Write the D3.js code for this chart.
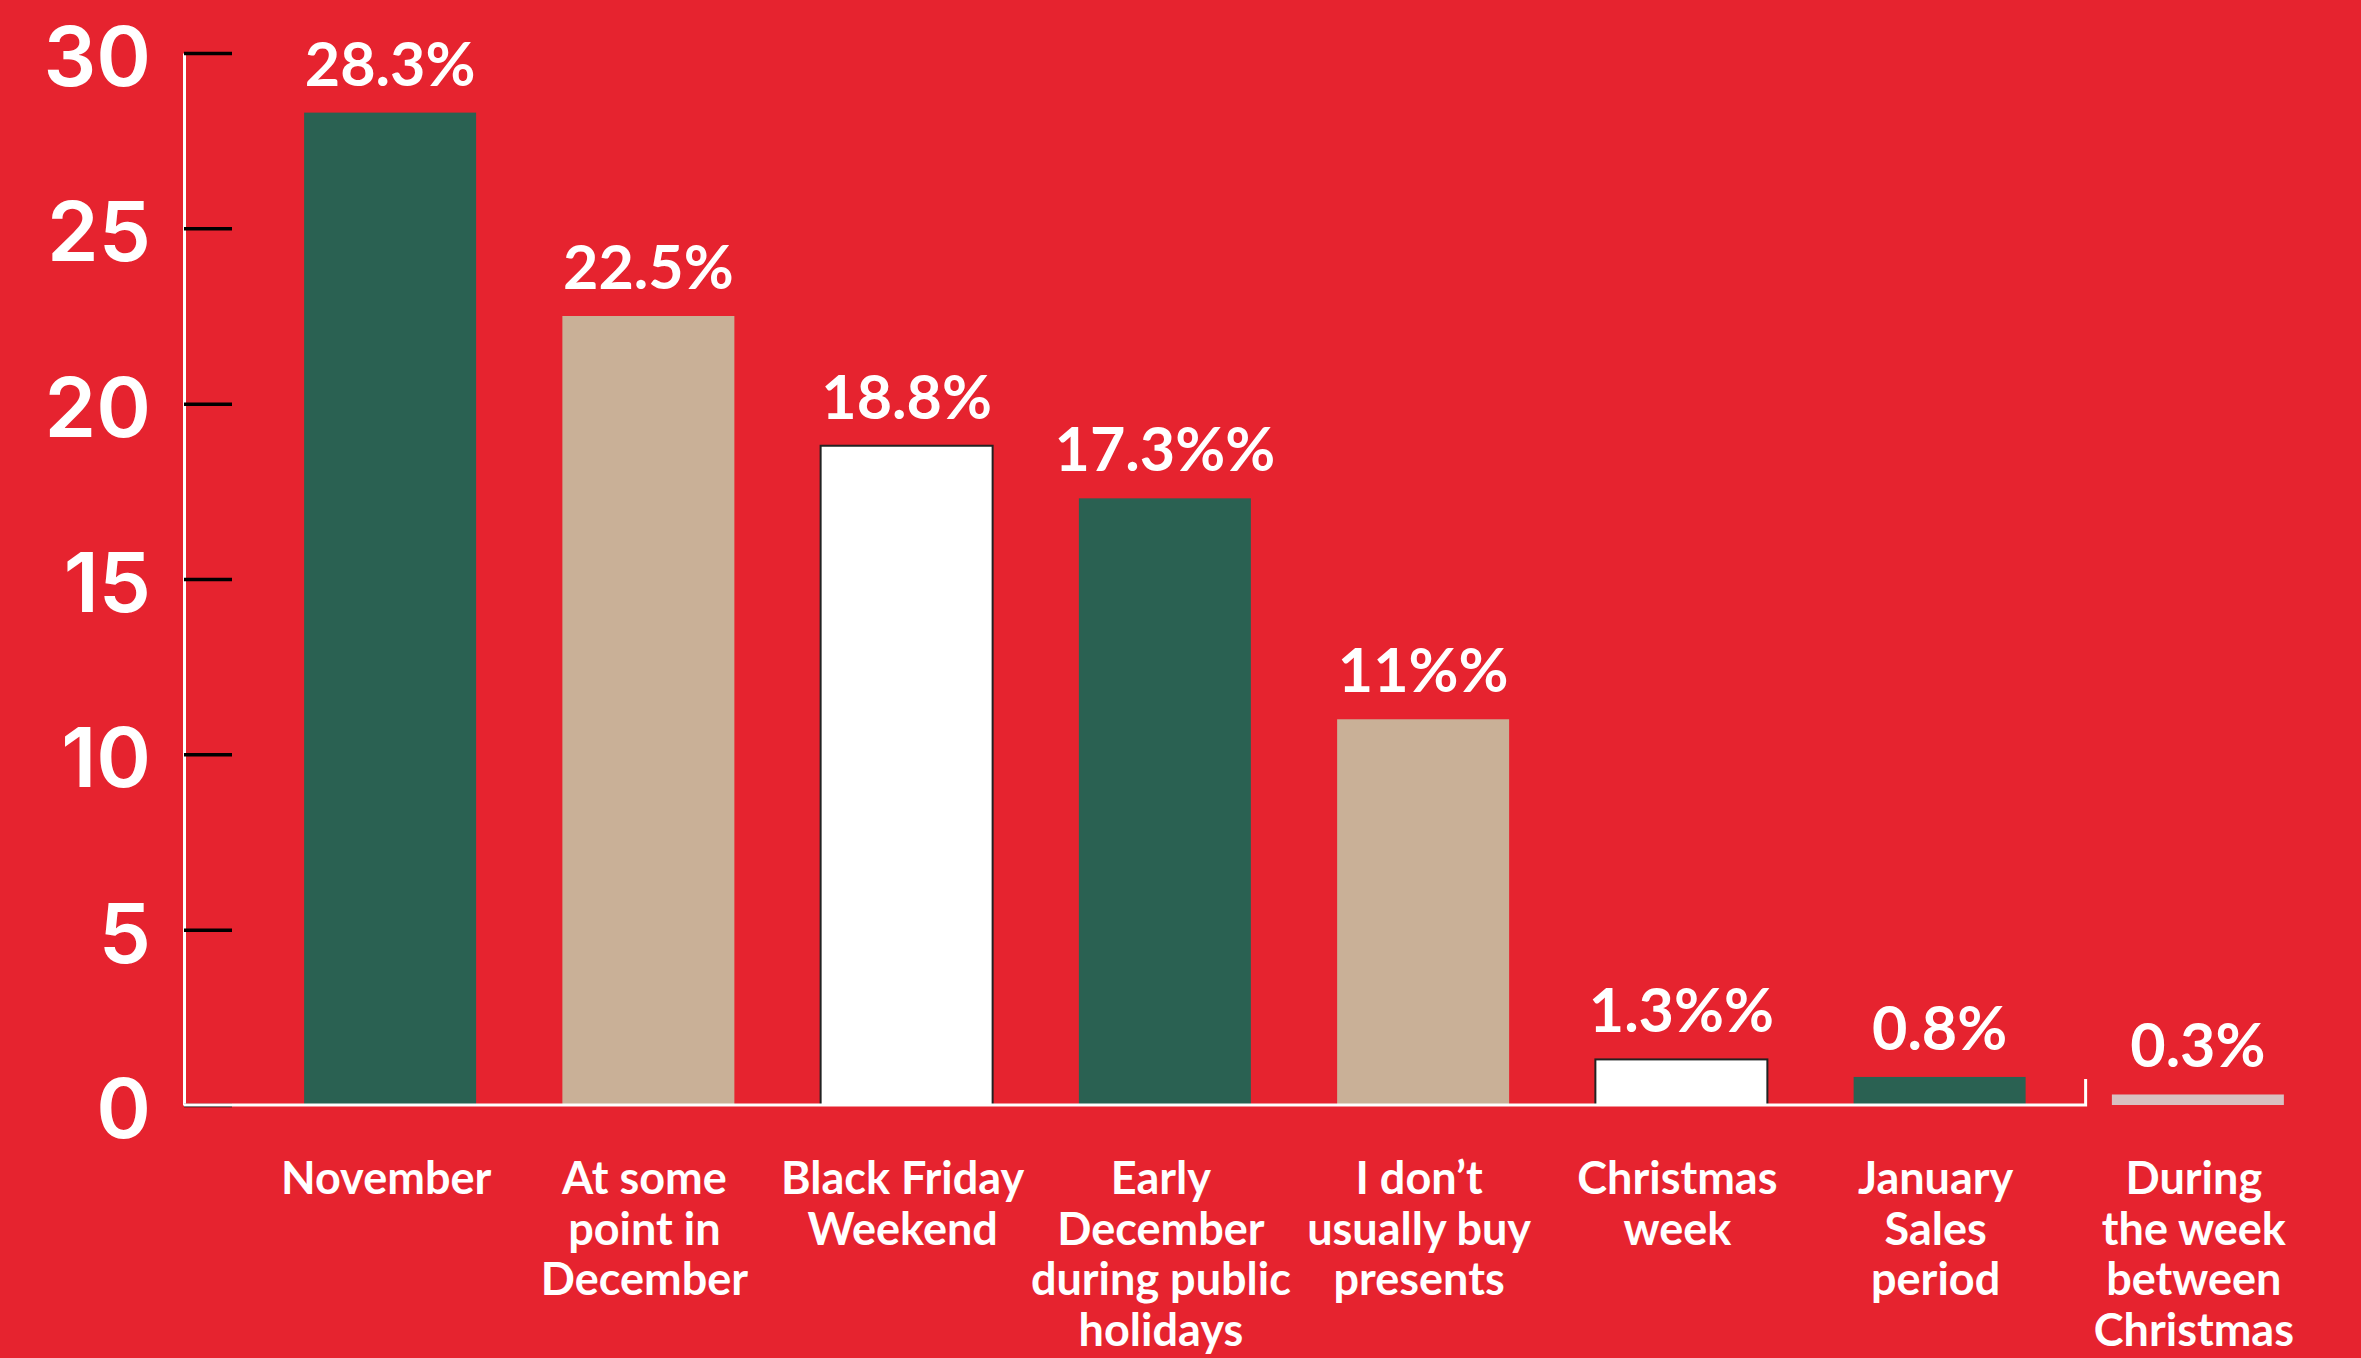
<!DOCTYPE html>
<html>
<head>
<meta charset="utf-8">
<script src="https://cdn.jsdelivr.net/npm/d3@7"></script>
<style>
  body { margin: 0; background: #e6232f; }
  svg { display: block; }
</style>
</head>
<body>
<div id="chart"></div>
<script>
'use strict';

// data
var categories = ['November', 'At some point in December', 'Black Friday Weekend',
  'Early December during public holidays', 'I don\u2019t usually buy presents',
  'Christmas week', 'January Sales period', 'During the week between Christmas'];
var values = [28.3, 22.5, 18.8, 17.3, 11, 1.3, 0.8, 0.3];
var valueLabels = ['28.3%', '22.5%', '18.8%', '17.3%%', '11%%', '1.3%%', '0.8%', '0.3%'];
var categoryLines = [
  ['November'],
  ['At some', 'point in', 'December'],
  ['Black Friday', 'Weekend'],
  ['Early', 'December', 'during public', 'holidays'],
  ['I don\u2019t', 'usually buy', 'presents'],
  ['Christmas', 'week'],
  ['January', 'Sales', 'period'],
  ['During', 'the week', 'between', 'Christmas']
];
var barColors = ['#2a6152', '#c9b097', '#ffffff', '#2a6152', '#c9b097', '#ffffff', '#2a6152', '#d9bfc1'];
var yTicks = [0, 5, 10, 15, 20, 25, 30];

var width = 2361;
var height = 1358;
var axisX = 184;

var svg = d3.select('#chart').append('svg')
  .attr('width', width)
  .attr('height', height);

svg.append('rect')
  .attr('width', width)
  .attr('height', height)
  .attr('fill', '#e6232f');

var x = d3.scaleBand()
  .domain(categories)
  .range([261, 2327])
  .paddingInner(0.334)
  .paddingOuter(0.167);

var y = d3.scaleLinear()
  .domain([0, 30]) //data space
  .range([1105, 53]); //pixel space

// y axis: white line, black ticks pointing into the plot, big white labels
var yAxis = svg.append('g')
  .attr('transform', 'translate(' + axisX + ',0)')
  .call(d3.axisLeft(y).tickValues(yTicks).tickSize(-48).tickSizeOuter(0).tickPadding(33));

yAxis.select('.domain')
  .attr('stroke', '#ffffff')
  .attr('stroke-width', 3);
yAxis.selectAll('.tick line')
  .attr('stroke', '#000000')
  .attr('stroke-width', 3.5);
yAxis.selectAll('.tick text')
  .attr('fill', '#ffffff')
  .attr('font-family', 'Inter, sans-serif')
  .attr('font-weight', 600)
  .attr('font-size', 83)
  .attr('dy', '0.39em');

// bars
var idx = d3.range(categories.length);

svg.selectAll('.bar')
    .data(idx)
  .enter().append('rect')
    .attr('class', 'bar')
    .attr('x', function(i){ return x(categories[i]); })
    .attr('y', function(i){ return y(values[i]); })
    .attr('width', x.bandwidth())
    .attr('height', function(i){ return y(0) - y(values[i]); })
    .attr('fill', function(i){ return barColors[i]; })
    .attr('stroke', function(i){ return barColors[i] === '#ffffff' ? '#222222' : 'none'; })
    .attr('stroke-width', 2);

// bottom axis line, stops after the seventh bar with a small upward tick
var axisEnd = x(categories[6]) + x.bandwidth() + 60;
svg.append('path')
  .attr('d', 'M' + axisX + ',' + y(0) + 'H' + axisEnd + 'V' + (y(0) - 26))
  .attr('fill', 'none')
  .attr('stroke', '#ffffff')
  .attr('stroke-width', 3);

// value labels
svg.selectAll('.value')
    .data(idx)
  .enter().append('text')
    .attr('class', 'value')
    .attr('x', function(i){ return x(categories[i]) + x.bandwidth() / 2; })
    .attr('y', function(i){ return y(values[i]) - 27; })
    .attr('text-anchor', 'middle')
    .attr('fill', '#ffffff')
    .attr('font-family', 'Lato, sans-serif')
    .attr('font-weight', 700)
    .attr('font-size', 61)
    .text(function(i){ return valueLabels[i]; });

// category labels, wrapped as in the original
var cat = svg.selectAll('.cat')
    .data(idx)
  .enter().append('text')
    .attr('class', 'cat')
    .attr('text-anchor', 'middle')
    .attr('fill', '#ffffff')
    .attr('font-family', 'Lato, sans-serif')
    .attr('font-weight', 700)
    .attr('font-size', 45);

cat.selectAll('tspan')
    .data(function(i){ return categoryLines[i].map(function(t){ return {t: t, i: i}; }); })
  .enter().append('tspan')
    .attr('x', function(d){ return x(categories[d.i]) + x.bandwidth() / 2 - 4; })
    .attr('y', function(d, k){ return 1194 + k * 50.5; })
    .text(function(d){ return d.t; });
</script>
</body>
</html>
